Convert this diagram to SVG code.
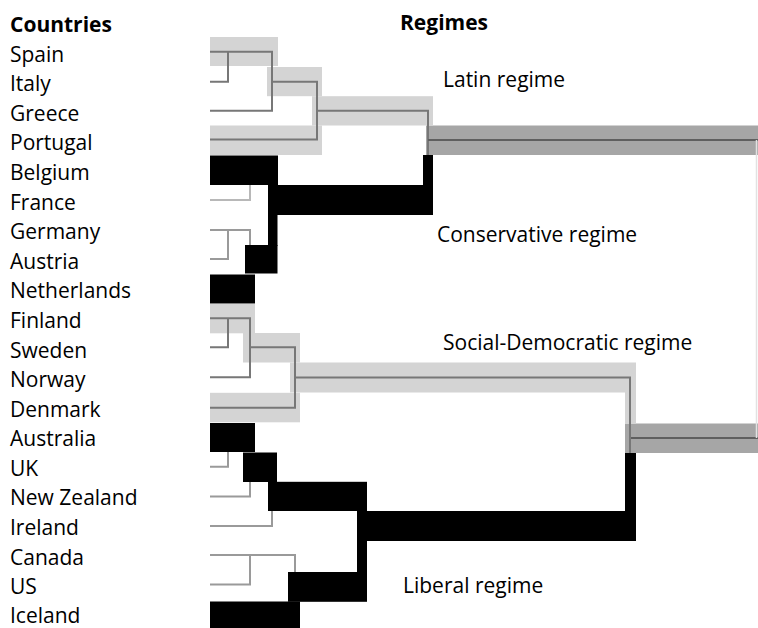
<svg xmlns="http://www.w3.org/2000/svg" width="758" height="628" viewBox="0 0 758 628">
<style>
text{font-family:"Open Sans","Noto Sans","Liberation Sans",sans-serif;font-size:21px;fill:#000}
.b{font-weight:bold}
.lt{fill:#d4d4d4}
.dk{fill:#a6a6a6}
.bk{fill:#000}
.ln{stroke:#777;stroke-width:2;fill:none}
.lg{stroke:#9a9a9a;stroke-width:2;fill:none}
.lf{stroke:#b8b8b8;stroke-width:2;fill:none}
.rt{stroke:#5f5f5f;stroke-width:2;fill:none}
.ed{stroke:#e2e2e2;stroke-width:1.5;fill:none}
</style>
<rect width="758" height="628" fill="#fff"/>
<g id="headers">
<text class="b" x="10" y="31.5">Countries</text>
<text class="b" x="400" y="30">Regimes</text>
</g>
<g id="countries">
<text x="10" y="61.7">Spain</text>
<text x="10" y="91.3">Italy</text>
<text x="10" y="120.9">Greece</text>
<text x="10" y="150.4">Portugal</text>
<text x="10" y="180">Belgium</text>
<text x="10" y="209.6">France</text>
<text x="10" y="239.2">Germany</text>
<text x="10" y="268.8">Austria</text>
<text x="10" y="298.3">Netherlands</text>
<text x="10" y="327.9">Finland</text>
<text x="10" y="357.5">Sweden</text>
<text x="10" y="387.1">Norway</text>
<text x="10" y="416.7">Denmark</text>
<text x="10" y="446.2">Australia</text>
<text x="10" y="475.8">UK</text>
<text x="10" y="505.4">New Zealand</text>
<text x="10" y="535">Ireland</text>
<text x="10" y="564.6">Canada</text>
<text x="10" y="594.1">US</text>
<text x="10" y="622.5">Iceland</text>
</g>
<g id="root-bands">
<rect class="dk" x="426" y="125.5" width="332" height="29.5"/>
<rect class="dk" x="625" y="423.5" width="133" height="29.5"/>
</g>
<g id="latin">
<rect class="lt" x="210" y="37" width="68" height="29"/>
<rect class="lt" x="267" y="67" width="55" height="29.2"/>
<rect class="lt" x="312" y="96.2" width="121" height="29.3"/>
<rect class="lt" x="210" y="125.5" width="112" height="29.5"/>
<text x="443" y="87.3">Latin regime</text>
</g>
<g id="conservative">
<rect class="bk" x="210" y="155.5" width="68" height="29.5"/>
<rect class="bk" x="268" y="185" width="165" height="30"/>
<rect class="bk" x="423" y="155" width="10" height="31"/>
<rect class="bk" x="268" y="214" width="9.5" height="32"/>
<rect class="bk" x="245" y="245" width="32.5" height="28.5"/>
<rect class="bk" x="210" y="274.5" width="45" height="29"/>
<text x="437" y="242">Conservative regime</text>
</g>
<g id="social-democratic">
<rect class="lt" x="210" y="304" width="45" height="29.3"/>
<rect class="lt" x="243" y="333" width="57" height="29.5"/>
<rect class="lt" x="290" y="362.5" width="346" height="30"/>
<rect class="lt" x="625" y="392" width="11" height="32"/>
<rect class="lt" x="210" y="392.8" width="90" height="29.5"/>
<text x="443" y="350">Social-Democratic regime</text>
</g>
<g id="liberal">
<rect class="bk" x="210" y="423" width="45" height="29"/>
<rect class="bk" x="243" y="452.5" width="34" height="29.5"/>
<rect class="bk" x="268" y="481.8" width="99" height="29.2"/>
<rect class="bk" x="357" y="511" width="279" height="30"/>
<rect class="bk" x="625" y="453" width="11" height="59"/>
<rect class="bk" x="357" y="540" width="10" height="33"/>
<rect class="bk" x="288" y="572" width="79" height="29.8"/>
<rect class="bk" x="210" y="601.5" width="90" height="30"/>
<text x="403" y="593.3">Liberal regime</text>
</g>
<g id="connectors">
<path class="ln" d="M210 51.7H272V110.7H210M210 81.7H228V51.7M272 81.7H317V139.5H210M317 110.7H428V155"/>
<path class="rt" d="M428 140H758M630 438H758"/>
<path class="ed" d="M756.5 140V438"/>
<path class="lf" d="M210 200H250V185"/>
<path class="lg" d="M210 230H250V245M228 230V259H210"/>
<path class="ln" d="M210 318.3H250V377.3H210M210 347.3H228V318.3M250 347.3H295V407.7H210M295 377.5H630V453"/>
<path class="lg" d="M210 466.7H228V452M210 496.5H250V482M210 526H272V511M210 555H295V572M250 555V584.5H210"/>
</g>
</svg>
